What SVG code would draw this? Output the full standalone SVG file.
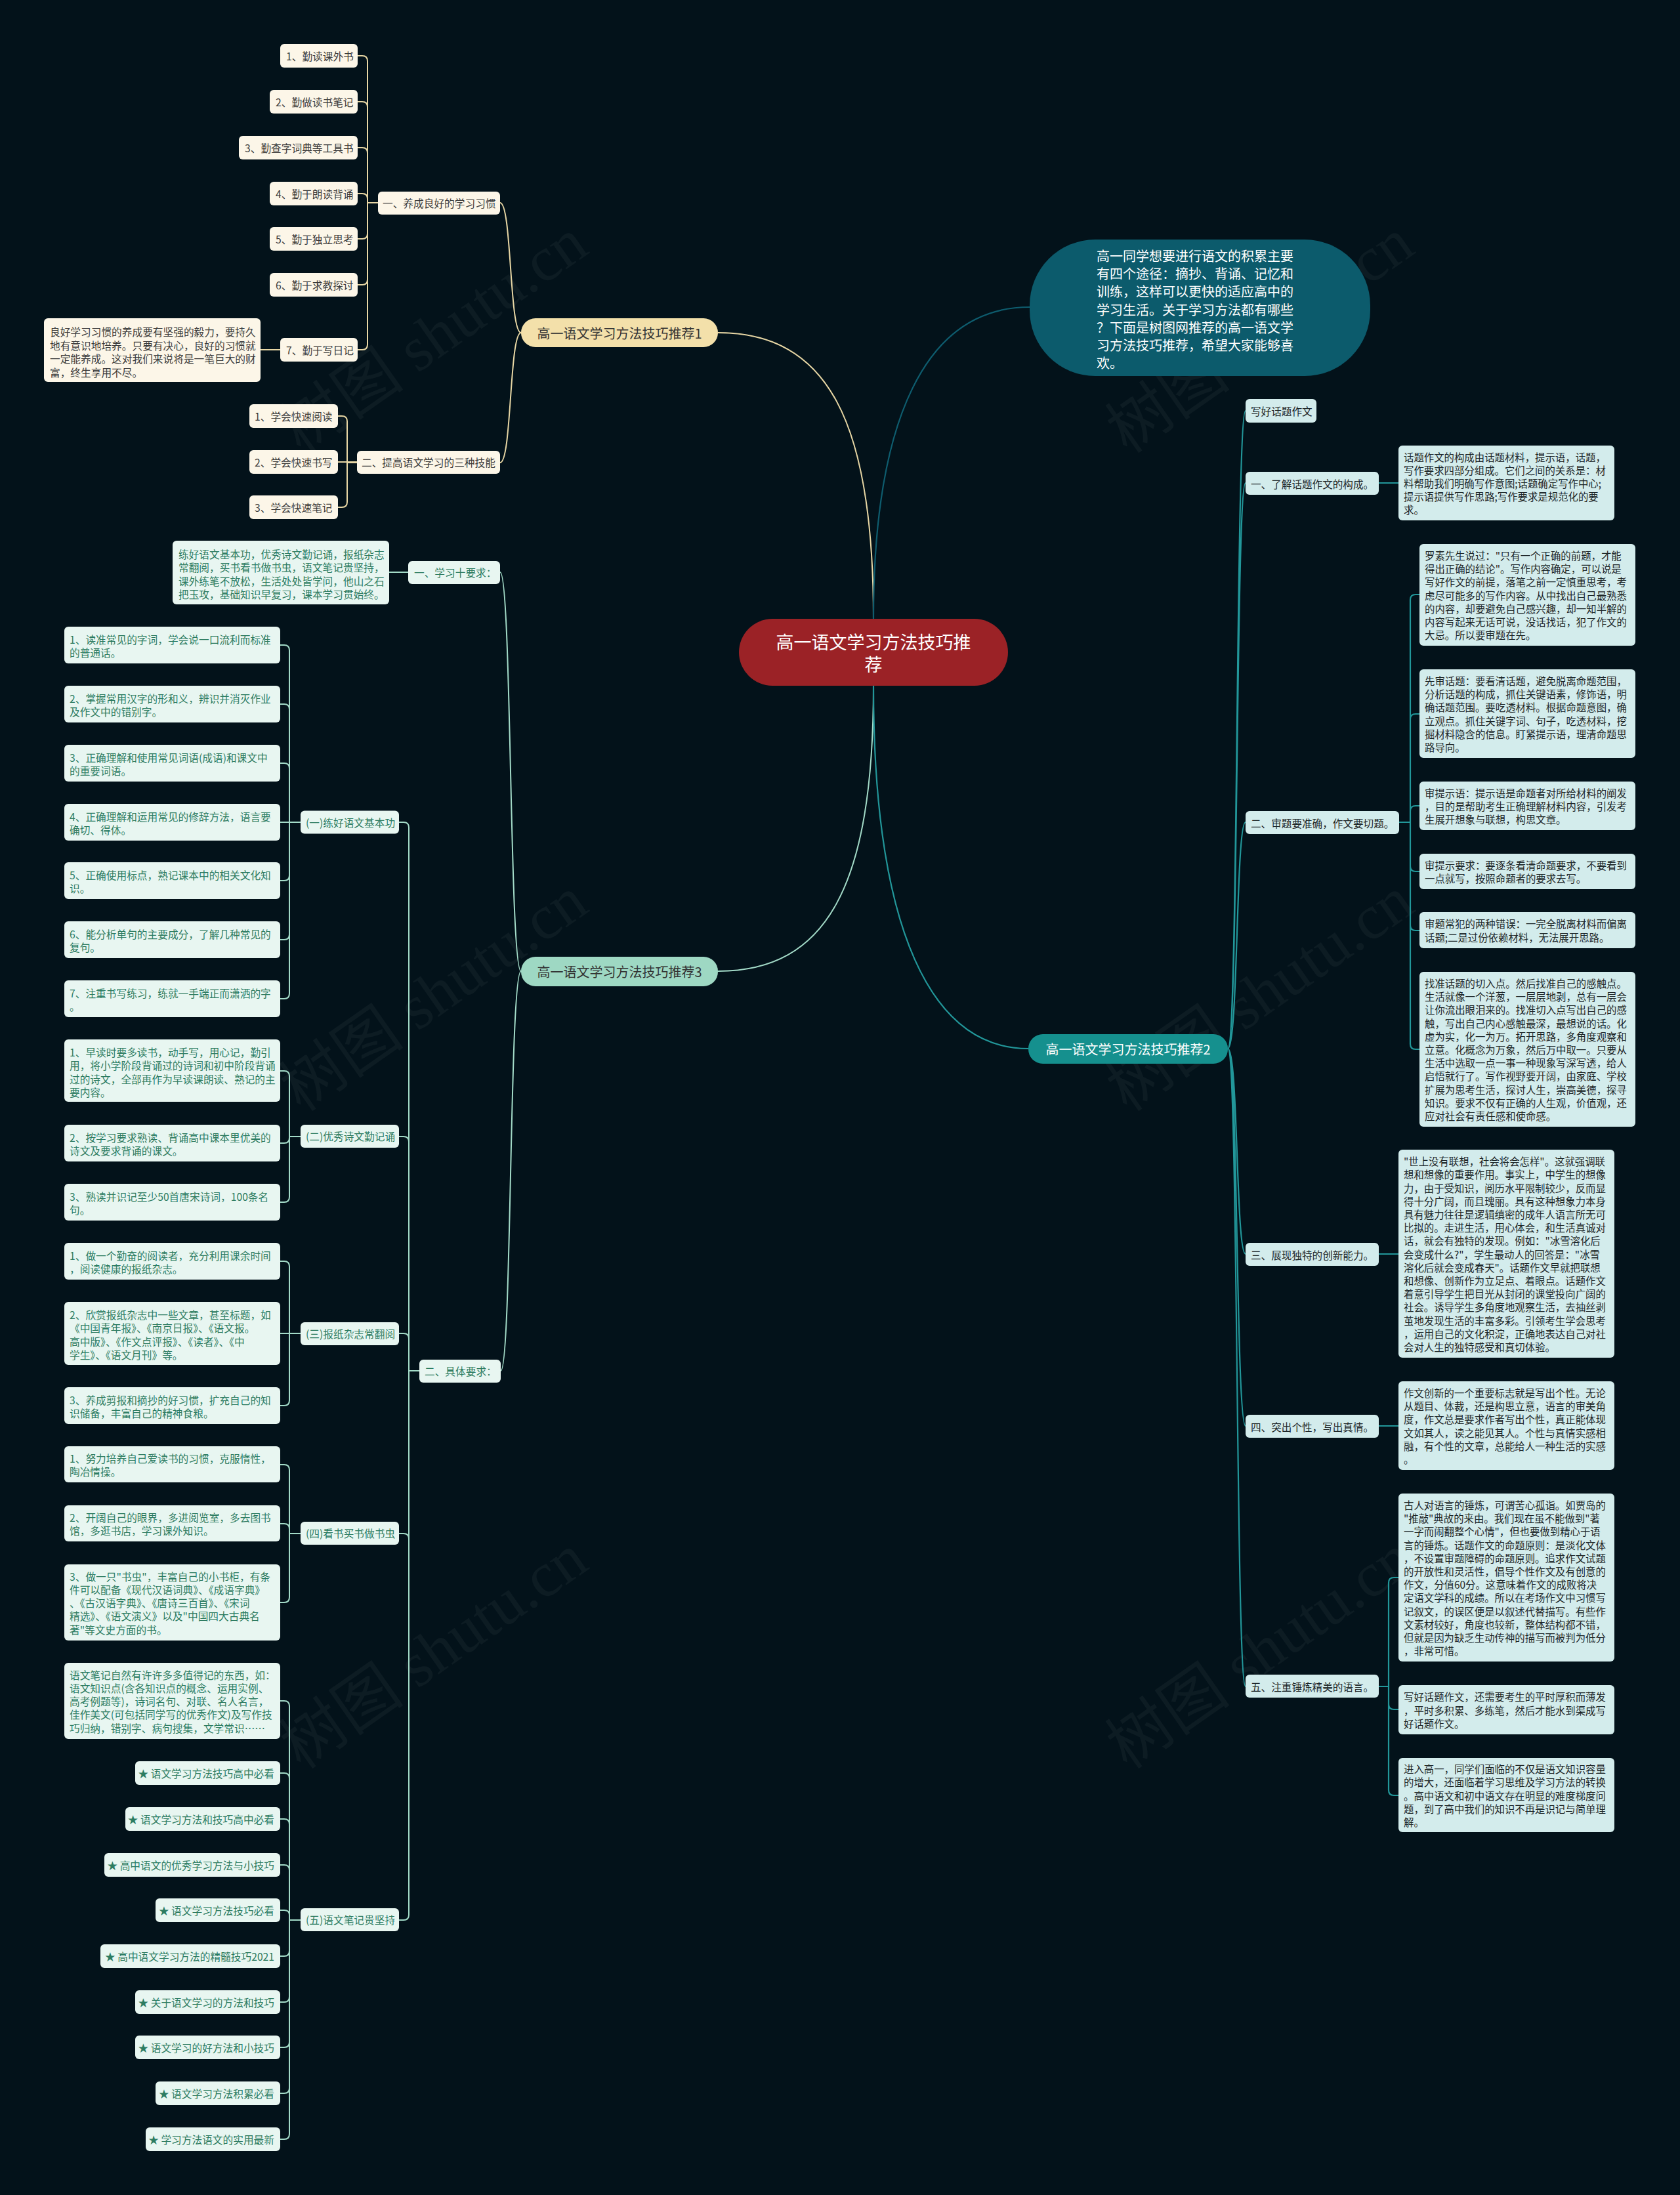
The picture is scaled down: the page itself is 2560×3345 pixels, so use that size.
<svg xmlns="http://www.w3.org/2000/svg" width="2560" height="3345" viewBox="0 0 2560 3345">
<defs>
<style>
text{font-family:"Noto Sans CJK SC","Liberation Sans",sans-serif;dominant-baseline:central}
.s{font-size:15.7px}
.r{font-size:15.4px}
.l{font-size:15.6px}
.wm{font-family:"Liberation Serif","Noto Sans CJK SC",serif;font-size:96px;fill:#ffffff;fill-opacity:0.045;text-anchor:middle}
.n1 rect{fill:#fcf6e8}.n1 text{fill:#3a3a3a}
.n3 rect{fill:#e8f6f1}.n3 text{fill:#2d7c61}
.n2 rect{fill:#d3ecec}.n2 text{fill:#1d2628}
.c1{stroke:#e8d7a5;fill:none;stroke-width:2}
.c3{stroke:#a3dbc8;fill:none;stroke-width:2}
.c2{stroke:#22979a;fill:none;stroke-width:2.2}
</style>
</defs>
<rect width="2560" height="3345" fill="#03121a"/>
<g id="watermark">
<text class="wm" x="661" y="512" transform="rotate(-35 661 512)">树图 shutu.cn</text>
<text class="wm" x="1920" y="512" transform="rotate(-35 1920 512)">树图 shutu.cn</text>
<text class="wm" x="661" y="1515" transform="rotate(-35 661 1515)">树图 shutu.cn</text>
<text class="wm" x="1920" y="1515" transform="rotate(-35 1920 1515)">树图 shutu.cn</text>
<text class="wm" x="661" y="2517" transform="rotate(-35 661 2517)">树图 shutu.cn</text>
<text class="wm" x="1920" y="2517" transform="rotate(-35 1920 2517)">树图 shutu.cn</text>
</g>
<g id="connectors">
<path d="M1331 943C1331 640 1260 507 1094 507" class="c1"/>
<path d="M1331 943C1331 640 1410 468 1569 468" stroke="#0e5d6f" stroke-width="2.2" fill="none"/>
<path d="M1331 1045C1331 1350 1260 1480 1094 1480" class="c3"/>
<path d="M1331 1045C1331 1420 1420 1598 1567 1598" class="c2"/>
<path class="c1" d="M794 507C776 507 780 309 762 309M794 507C776 507 780 705 762 705M576 309H560V93Q560 85 552 85H545M576 309H560V163Q560 155 552 155H545M576 309H560V233Q560 225 552 225H545M576 309H560V303Q560 295 552 295H545M576 309H560V356Q560 364 552 364H545M576 309H560V426Q560 434 552 434H545M576 309H560V525Q560 533 552 533H545M427 533H397M544 705H529V642Q529 634 521 634H515M544 704H515M544 705H529V765Q529 773 521 773H515"/>
<path class="c3" d="M794 1480C776 1480 780 872 762 872M794 1480C776 1480 780 2089 763 2089M622 872H593M639 2089H623V1261Q623 1253 615 1253H608M639 2089H623V1740Q623 1732 615 1732H608M639 2089H623V2040Q623 2032 615 2032H608M639 2089H623V2345Q623 2337 615 2337H608M639 2089H623V2918Q623 2926 615 2926H608"/>
<path class="c3" d="M458 1253H441V991Q441 983 433 983H427M458 1253H441V1081Q441 1073 433 1073H427M458 1253H441V1171Q441 1163 433 1163H427M458 1253H427M458 1253H441V1334Q441 1342 433 1342H427M458 1253H441V1424Q441 1432 433 1432H427M458 1253H441V1514Q441 1522 433 1522H427"/>
<path class="c3" d="M458 1732H441V1640Q441 1632 433 1632H427M458 1732H441V1734Q441 1742 433 1742H427M458 1732H441V1824Q441 1832 433 1832H427"/>
<path class="c3" d="M458 2032H441V1930Q441 1922 433 1922H427M458 2032H427M458 2032H441V2134Q441 2142 433 2142H427"/>
<path class="c3" d="M458 2337H441V2240Q441 2232 433 2232H427M458 2337H441V2330Q441 2322 433 2322H427M458 2337H441V2434Q441 2442 433 2442H427"/>
<path class="c3" d="M458 2926H441V2600Q441 2592 433 2592H427M458 2926H441V2710Q441 2702 433 2702H427M458 2926H441V2780Q441 2772 433 2772H427M458 2926H441V2850Q441 2842 433 2842H427M458 2926H441V2918Q441 2911 433 2911H427M458 2926H441V2973Q441 2981 433 2981H427M458 2926H441V3043Q441 3051 433 3051H427M458 2926H441V3112Q441 3120 433 3120H427M458 2926H441V3182Q441 3190 433 3190H427M458 2926H441V3252Q441 3260 433 3260H427"/>
<path class="c2" d="M1871 1598C1887 1598 1883 626 1898 626M1871 1598C1887 1598 1883 736 1898 736M1871 1598C1887 1598 1883 1253 1898 1253M1871 1598C1887 1598 1883 1911 1898 1911M1871 1598C1887 1598 1883 2173 1898 2173M1871 1598C1887 1598 1883 2570 1898 2570"/>
<path class="c2" d="M2101 736H2131M2101 1911H2131M2101 2173H2131M2132 1253H2149V914Q2149 906 2157 906H2163M2132 1253H2149V1096Q2149 1088 2157 1088H2163M2132 1253H2149V1236Q2149 1228 2157 1228H2163M2132 1253H2149V1320Q2149 1328 2157 1328H2163M2132 1253H2149V1410Q2149 1418 2157 1418H2163M2132 1253H2149V1591Q2149 1599 2157 1599H2163M2101 2570H2116V2412Q2116 2404 2124 2404H2131M2101 2570H2116V2597Q2116 2605 2124 2605H2131M2101 2570H2116V2728Q2116 2736 2124 2736H2131"/>
</g>

<g id="n-center"><rect x="1126" y="943" width="410" height="102" rx="51" fill="#9b2226"/>
<text x="1331" y="977" font-size="27" fill="#ffffff" text-anchor="middle">高一语文学习方法技巧推</text>
<text x="1331" y="1011" font-size="27" fill="#ffffff" text-anchor="middle">荐</text></g>

<g id="n-intro"><rect x="1569" y="365" width="519" height="208" rx="100" fill="#0c5b6c"/>
<text x="1671" y="389" font-size="20" fill="#ffffff"><tspan>高一同学想要进行语文的积累主要</tspan><tspan x="1671" dy="27.2">有四个途径：摘抄、背诵、记忆和</tspan><tspan x="1671" dy="27.2">训练，这样可以更快的适应高中的</tspan><tspan x="1671" dy="27.2">学习生活。关于学习方法都有哪些</tspan><tspan x="1671" dy="27.2">？下面是树图网推荐的高一语文学</tspan><tspan x="1671" dy="27.2">习方法技巧推荐，希望大家能够喜</tspan><tspan x="1671" dy="27.2">欢。</tspan></text></g>

<g id="n-b1"><rect x="794" y="485" width="300" height="44" rx="22" fill="#f3e0aa"/><text x="944" y="507" font-size="20" fill="#333333" text-anchor="middle">高一语文学习方法技巧推荐1</text></g>
<g id="n-b3"><rect x="794" y="1458" width="300" height="45" rx="22" fill="#9ed8c3"/><text x="944" y="1480.5" font-size="20" fill="#333333" text-anchor="middle">高一语文学习方法技巧推荐3</text></g>
<g id="n-b2"><rect x="1567" y="1576" width="304" height="45" rx="22" fill="#15908e"/><text x="1719" y="1598.5" font-size="20" fill="#ffffff" text-anchor="middle">高一语文学习方法技巧推荐2</text></g>

<g class="n1 s">
<g id="n1-a"><rect x="576" y="292" width="186" height="35" rx="6"/><text x="583" y="309.5">一、养成良好的学习习惯</text></g>
<g id="n1-a1"><rect x="427" y="67" width="118" height="36" rx="6"/><text x="436" y="85">1、勤读课外书</text></g>
<g id="n1-a2"><rect x="411" y="137" width="134" height="36" rx="6"/><text x="420" y="155">2、勤做读书笔记</text></g>
<g id="n1-a3"><rect x="364" y="207" width="181" height="36" rx="6"/><text x="373" y="225">3、勤查字词典等工具书</text></g>
<g id="n1-a4"><rect x="411" y="277" width="134" height="36" rx="6"/><text x="420" y="295">4、勤于朗读背诵</text></g>
<g id="n1-a5"><rect x="411" y="346" width="134" height="36" rx="6"/><text x="420" y="364">5、勤于独立思考</text></g>
<g id="n1-a6"><rect x="411" y="416" width="134" height="36" rx="6"/><text x="420" y="434">6、勤于求教探讨</text></g>
<g id="n1-a7"><rect x="427" y="515" width="118" height="36" rx="6"/><text x="436" y="533">7、勤于写日记</text></g>
<g id="n1-a7c"><rect x="67" y="485" width="330" height="97" rx="6"/><text x="76" y="505"><tspan>良好学习习惯的养成要有坚强的毅力，要持久</tspan><tspan x="76" dy="20.6">地有意识地培养。只要有决心，良好的习惯就</tspan><tspan x="76" dy="20.6">一定能养成。这对我们来说将是一笔巨大的财</tspan><tspan x="76" dy="20.6">富，终生享用不尽。</tspan></text></g>
<g id="n1-b"><rect x="544" y="687" width="218" height="35" rx="6"/><text x="551" y="704.5">二、提高语文学习的三种技能</text></g>
<g id="n1-b1"><rect x="380" y="616" width="135" height="36" rx="6"/><text x="388" y="634">1、学会快速阅读</text></g>
<g id="n1-b2"><rect x="380" y="686" width="135" height="36" rx="6"/><text x="388" y="704">2、学会快速书写</text></g>
<g id="n1-b3"><rect x="380" y="755" width="135" height="36" rx="6"/><text x="388" y="773">3、学会快速笔记</text></g>
</g>

<g class="n3 s">
<g id="n3-a"><rect x="622" y="855" width="140" height="35" rx="6"/><text x="631" y="872.5">一、学习十要求：</text></g>
<g id="n3-ac"><rect x="263" y="824" width="330" height="97" rx="6"/><text x="272" y="843.5"><tspan>练好语文基本功，优秀诗文勤记诵，报纸杂志</tspan><tspan x="272" dy="20.5">常翻阅，买书看书做书虫，语文笔记贵坚持，</tspan><tspan x="272" dy="20.5">课外练笔不放松，生活处处皆学问，他山之石</tspan><tspan x="272" dy="20.5">把玉攻，基础知识早复习，课本学习贯始终。</tspan></text></g>
<g id="n3-b"><rect x="639" y="2072" width="124" height="35" rx="6"/><text x="647" y="2089.5">二、具体要求：</text></g>

<g id="n3-b1"><rect x="458" y="1235.5" width="150" height="35" rx="6"/><text x="466" y="1253">(一)练好语文基本功</text></g>
<g id="n3-b1-1"><rect x="98" y="955" width="329" height="56" rx="6"/><text x="106" y="974"><tspan>1、读准常见的字词，学会说一口流利而标准</tspan><tspan x="106" dy="20.3">的普通话。</tspan></text></g>
<g id="n3-b1-2"><rect x="98" y="1045" width="329" height="56" rx="6"/><text x="106" y="1064"><tspan>2、掌握常用汉字的形和义，辨识并消灭作业</tspan><tspan x="106" dy="20.3">及作文中的错别字。</tspan></text></g>
<g id="n3-b1-3"><rect x="98" y="1135" width="329" height="56" rx="6"/><text x="106" y="1154"><tspan>3、正确理解和使用常见词语(成语)和课文中</tspan><tspan x="106" dy="20.3">的重要词语。</tspan></text></g>
<g id="n3-b1-4"><rect x="98" y="1225" width="329" height="56" rx="6"/><text x="106" y="1244"><tspan>4、正确理解和运用常见的修辞方法，语言要</tspan><tspan x="106" dy="20.3">确切、得体。</tspan></text></g>
<g id="n3-b1-5"><rect x="98" y="1314" width="329" height="56" rx="6"/><text x="106" y="1333"><tspan>5、正确使用标点，熟记课本中的相关文化知</tspan><tspan x="106" dy="20.3">识。</tspan></text></g>
<g id="n3-b1-6"><rect x="98" y="1404" width="329" height="56" rx="6"/><text x="106" y="1423"><tspan>6、能分析单句的主要成分，了解几种常见的</tspan><tspan x="106" dy="20.3">复句。</tspan></text></g>
<g id="n3-b1-7"><rect x="98" y="1494" width="329" height="56" rx="6"/><text x="106" y="1513"><tspan>7、注重书写练习，练就一手端正而潇洒的字</tspan><tspan x="106" dy="20.3">。</tspan></text></g>

<g id="n3-b2"><rect x="458" y="1714" width="150" height="35" rx="6"/><text x="466" y="1731.5">(二)优秀诗文勤记诵</text></g>
<g id="n3-b2-1"><rect x="98" y="1584" width="329" height="95" rx="6"/><text x="106" y="1603"><tspan>1、早读时要多读书，动手写，用心记，勤引</tspan><tspan x="106" dy="20.3">用，将小学阶段背诵过的诗词和初中阶段背诵</tspan><tspan x="106" dy="20.3">过的诗文，全部再作为早读课朗读、熟记的主</tspan><tspan x="106" dy="20.3">要内容。</tspan></text></g>
<g id="n3-b2-2"><rect x="98" y="1714" width="329" height="56" rx="6"/><text x="106" y="1733"><tspan>2、按学习要求熟读、背诵高中课本里优美的</tspan><tspan x="106" dy="20.3">诗文及要求背诵的课文。</tspan></text></g>
<g id="n3-b2-3"><rect x="98" y="1804" width="329" height="56" rx="6"/><text x="106" y="1823"><tspan>3、熟读并识记至少50首唐宋诗词，100条名</tspan><tspan x="106" dy="20.3">句。</tspan></text></g>

<g id="n3-b3"><rect x="458" y="2015" width="150" height="35" rx="6"/><text x="466" y="2032.5">(三)报纸杂志常翻阅</text></g>
<g id="n3-b3-1"><rect x="98" y="1894" width="329" height="56" rx="6"/><text x="106" y="1913"><tspan>1、做一个勤奋的阅读者，充分利用课余时间</tspan><tspan x="106" dy="20.3">，阅读健康的报纸杂志。</tspan></text></g>
<g id="n3-b3-2"><rect x="98" y="1984" width="329" height="96" rx="6"/><text x="106" y="2003"><tspan>2、欣赏报纸杂志中一些文章，甚至标题，如</tspan><tspan x="106" dy="20.3">《中国青年报》、《南京日报》、《语文报。</tspan><tspan x="106" dy="20.3">高中版》、《作文点评报》、《读者》、《中</tspan><tspan x="106" dy="20.3">学生》、《语文月刊》等。</tspan></text></g>
<g id="n3-b3-3"><rect x="98" y="2114" width="329" height="56" rx="6"/><text x="106" y="2133"><tspan>3、养成剪报和摘抄的好习惯，扩充自己的知</tspan><tspan x="106" dy="20.3">识储备，丰富自己的精神食粮。</tspan></text></g>

<g id="n3-b4"><rect x="458" y="2319" width="150" height="35" rx="6"/><text x="466" y="2336.5">(四)看书买书做书虫</text></g>
<g id="n3-b4-1"><rect x="98" y="2204" width="329" height="55" rx="6"/><text x="106" y="2222"><tspan>1、努力培养自己爱读书的习惯，克服惰性，</tspan><tspan x="106" dy="20.3">陶冶情操。</tspan></text></g>
<g id="n3-b4-2"><rect x="98" y="2294" width="329" height="55" rx="6"/><text x="106" y="2312"><tspan>2、开阔自己的眼界，多进阅览室，多去图书</tspan><tspan x="106" dy="20.3">馆，多逛书店，学习课外知识。</tspan></text></g>
<g id="n3-b4-3"><rect x="98" y="2384" width="329" height="116" rx="6"/><text x="106" y="2401.5"><tspan>3、做一只"书虫"，丰富自己的小书柜，有条</tspan><tspan x="106" dy="20.3">件可以配备《现代汉语词典》、《成语字典》</tspan><tspan x="106" dy="20.3">、《古汉语字典》、《唐诗三百首》、《宋词</tspan><tspan x="106" dy="20.3">精选》、《语文演义》以及"中国四大古典名</tspan><tspan x="106" dy="20.3">著"等文史方面的书。</tspan></text></g>

<g id="n3-b5"><rect x="458" y="2908" width="150" height="35" rx="6"/><text x="466" y="2925.5">(五)语文笔记贵坚持</text></g>
<g id="n3-b5-c"><rect x="98" y="2534" width="329" height="116" rx="6"/><text x="106" y="2551.5"><tspan>语文笔记自然有许许多多值得记的东西，如：</tspan><tspan x="106" dy="20.3">语文知识点(含各知识点的概念、运用实例、</tspan><tspan x="106" dy="20.3">高考例题等)，诗词名句、对联、名人名言，</tspan><tspan x="106" dy="20.3">佳作美文(可包括同学写的优秀作文)及写作技</tspan><tspan x="106" dy="20.3">巧归纳，错别字、病句搜集，文学常识……</tspan></text></g>
<g id="n3-s1"><rect x="206" y="2684" width="221" height="36" rx="6"/><text x="418" y="2702" text-anchor="end">★ 语文学习方法技巧高中必看</text></g>
<g id="n3-s2"><rect x="191" y="2754" width="236" height="36" rx="6"/><text x="418" y="2772" text-anchor="end">★ 语文学习方法和技巧高中必看</text></g>
<g id="n3-s3"><rect x="159" y="2824" width="268" height="36" rx="6"/><text x="418" y="2842" text-anchor="end">★ 高中语文的优秀学习方法与小技巧</text></g>
<g id="n3-s4"><rect x="237" y="2893" width="190" height="36" rx="6"/><text x="418" y="2911" text-anchor="end">★ 语文学习方法技巧必看</text></g>
<g id="n3-s5"><rect x="153" y="2963" width="274" height="36" rx="6"/><text x="418" y="2981" text-anchor="end">★ 高中语文学习方法的精髓技巧2021</text></g>
<g id="n3-s6"><rect x="206" y="3033" width="221" height="36" rx="6"/><text x="418" y="3051" text-anchor="end">★ 关于语文学习的方法和技巧</text></g>
<g id="n3-s7"><rect x="206" y="3102" width="221" height="36" rx="6"/><text x="418" y="3120" text-anchor="end">★ 语文学习的好方法和小技巧</text></g>
<g id="n3-s8"><rect x="237" y="3172" width="190" height="36" rx="6"/><text x="418" y="3190" text-anchor="end">★ 语文学习方法积累必看</text></g>
<g id="n3-s9"><rect x="222" y="3242" width="205" height="36" rx="6"/><text x="418" y="3260" text-anchor="end">★ 学习方法语文的实用最新</text></g>
</g>

<g class="n2">
<g id="n2-0" class="l"><rect x="1898" y="608" width="108" height="36" rx="6"/><text x="1906" y="626">写好话题作文</text></g>
<g id="n2-1" class="l"><rect x="1898" y="719" width="203" height="35" rx="6"/><text x="1906" y="736.5">一、了解话题作文的构成。</text></g>
<g id="n2-1c" class="r"><rect x="2131" y="679" width="329" height="114" rx="6"/><text x="2139" y="695.6"><tspan>话题作文的构成由话题材料，提示语，话题，</tspan><tspan x="2139" dy="20.2">写作要求四部分组成。它们之间的关系是：材</tspan><tspan x="2139" dy="20.2">料帮助我们明确写作意图;话题确定写作中心;</tspan><tspan x="2139" dy="20.2">提示语提供写作思路;写作要求是规范化的要</tspan><tspan x="2139" dy="20.2">求。</tspan></text></g>
<g id="n2-2" class="l"><rect x="1898" y="1236" width="234" height="35" rx="6"/><text x="1906" y="1253.5">二、审题要准确，作文要切题。</text></g>
<g id="n2-2a" class="r"><rect x="2163" y="829" width="329" height="155" rx="6"/><text x="2171" y="846"><tspan>罗素先生说过："只有一个正确的前题，才能</tspan><tspan x="2171" dy="20.2">得出正确的结论"。写作内容确定，可以说是</tspan><tspan x="2171" dy="20.2">写好作文的前提，落笔之前一定慎重思考，考</tspan><tspan x="2171" dy="20.2">虑尽可能多的写作内容。从中找出自己最熟悉</tspan><tspan x="2171" dy="20.2">的内容，却要避免自己感兴趣，却一知半解的</tspan><tspan x="2171" dy="20.2">内容写起来无话可说，没话找话，犯了作文的</tspan><tspan x="2171" dy="20.2">大忌。所以要审题在先。</tspan></text></g>
<g id="n2-2b" class="r"><rect x="2163" y="1020" width="329" height="135" rx="6"/><text x="2171" y="1037"><tspan>先审话题：要看清话题，避免脱离命题范围，</tspan><tspan x="2171" dy="20.2">分析话题的构成，抓住关键语素，修饰语，明</tspan><tspan x="2171" dy="20.2">确话题范围。要吃透材料。根据命题意图，确</tspan><tspan x="2171" dy="20.2">立观点。抓住关键字词、句子，吃透材料，挖</tspan><tspan x="2171" dy="20.2">掘材料隐含的信息。盯紧提示语，理清命题思</tspan><tspan x="2171" dy="20.2">路导向。</tspan></text></g>
<g id="n2-2c" class="r"><rect x="2163" y="1191" width="329" height="74" rx="6"/><text x="2171" y="1207.8"><tspan>审提示语：提示语是命题者对所给材料的阐发</tspan><tspan x="2171" dy="20.2">，目的是帮助考生正确理解材料内容，引发考</tspan><tspan x="2171" dy="20.2">生展开想象与联想，构思文章。</tspan></text></g>
<g id="n2-2d" class="r"><rect x="2163" y="1301" width="329" height="54" rx="6"/><text x="2171" y="1317.9"><tspan>审提示要求：要逐条看清命题要求，不要看到</tspan><tspan x="2171" dy="20.2">一点就写，按照命题者的要求去写。</tspan></text></g>
<g id="n2-2e" class="r"><rect x="2163" y="1390" width="329" height="55" rx="6"/><text x="2171" y="1407.4"><tspan>审题常犯的两种错误：一完全脱离材料而偏离</tspan><tspan x="2171" dy="20.2">话题;二是过份依赖材料，无法展开思路。</tspan></text></g>
<g id="n2-2f" class="r"><rect x="2163" y="1481" width="329" height="236" rx="6"/><text x="2171" y="1498"><tspan>找准话题的切入点。然后找准自己的感触点。</tspan><tspan x="2171" dy="20.2">生活就像一个洋葱，一层层地剥，总有一层会</tspan><tspan x="2171" dy="20.2">让你流出眼泪来的。找准切入点写出自己的感</tspan><tspan x="2171" dy="20.2">触，写出自己内心感触最深，最想说的话。化</tspan><tspan x="2171" dy="20.2">虚为实，化一为万。拓开思路，多角度观察和</tspan><tspan x="2171" dy="20.2">立意。化概念为万象，然后万中取一。只要从</tspan><tspan x="2171" dy="20.2">生活中选取一点一事一种现象写深写透，给人</tspan><tspan x="2171" dy="20.2">启悟就行了。写作视野要开阔，由家庭、学校</tspan><tspan x="2171" dy="20.2">扩展为思考生活，探讨人生，崇高美德，探寻</tspan><tspan x="2171" dy="20.2">知识。要求不仅有正确的人生观，价值观，还</tspan><tspan x="2171" dy="20.2">应对社会有责任感和使命感。</tspan></text></g>
<g id="n2-3" class="l"><rect x="1898" y="1894" width="203" height="35" rx="6"/><text x="1906" y="1911.5">三、展现独特的创新能力。</text></g>
<g id="n2-3c" class="r"><rect x="2131" y="1752" width="329" height="317" rx="6"/><text x="2139" y="1769.1"><tspan>"世上没有联想，社会将会怎样"。这就强调联</tspan><tspan x="2139" dy="20.2">想和想像的重要作用。事实上，中学生的想像</tspan><tspan x="2139" dy="20.2">力，由于受知识，阅历水平限制较少，反而显</tspan><tspan x="2139" dy="20.2">得十分广阔，而且瑰丽。具有这种想象力本身</tspan><tspan x="2139" dy="20.2">具有魅力往往是逻辑缜密的成年人语言所无可</tspan><tspan x="2139" dy="20.2">比拟的。走进生活，用心体会，和生活真诚对</tspan><tspan x="2139" dy="20.2">话，就会有独特的发现。例如："冰雪溶化后</tspan><tspan x="2139" dy="20.2">会变成什么?"，学生最动人的回答是："冰雪</tspan><tspan x="2139" dy="20.2">溶化后就会变成春天"。话题作文早就把联想</tspan><tspan x="2139" dy="20.2">和想像、创新作为立足点、着眼点。话题作文</tspan><tspan x="2139" dy="20.2">着意引导学生把目光从封闭的课堂投向广阔的</tspan><tspan x="2139" dy="20.2">社会。诱导学生多角度地观察生活，去抽丝剥</tspan><tspan x="2139" dy="20.2">茧地发现生活的丰富多彩。引领考生学会思考</tspan><tspan x="2139" dy="20.2">，运用自己的文化积淀，正确地表达自己对社</tspan><tspan x="2139" dy="20.2">会对人生的独特感受和真切体验。</tspan></text></g>
<g id="n2-4" class="l"><rect x="1898" y="2156" width="203" height="35" rx="6"/><text x="1906" y="2173.5">四、突出个性，写出真情。</text></g>
<g id="n2-4c" class="r"><rect x="2131" y="2105" width="329" height="135" rx="6"/><text x="2139" y="2122"><tspan>作文创新的一个重要标志就是写出个性。无论</tspan><tspan x="2139" dy="20.2">从题目、体裁，还是构思立意，语言的审美角</tspan><tspan x="2139" dy="20.2">度，作文总是要求作者写出个性，真正能体现</tspan><tspan x="2139" dy="20.2">文如其人，读之能见其人。个性与真情实感相</tspan><tspan x="2139" dy="20.2">融，有个性的文章，总能给人一种生活的实感</tspan><tspan x="2139" dy="20.2">。</tspan></text></g>
<g id="n2-5" class="l"><rect x="1898" y="2552" width="203" height="35" rx="6"/><text x="1906" y="2569.5">五、注重锤炼精美的语言。</text></g>
<g id="n2-5a" class="r"><rect x="2131" y="2276" width="329" height="256" rx="6"/><text x="2139" y="2292.9"><tspan>古人对语言的锤炼，可谓苦心孤诣。如贾岛的</tspan><tspan x="2139" dy="20.2">"推敲"典故的来由。我们现在虽不能做到"著</tspan><tspan x="2139" dy="20.2">一字而闹翻整个心情"，但也要做到精心于语</tspan><tspan x="2139" dy="20.2">言的锤炼。话题作文的命题原则：是淡化文体</tspan><tspan x="2139" dy="20.2">，不设置审题障碍的命题原则。追求作文试题</tspan><tspan x="2139" dy="20.2">的开放性和灵活性，倡导个性作文及有创意的</tspan><tspan x="2139" dy="20.2">作文，分值60分。这意味着作文的成败将决</tspan><tspan x="2139" dy="20.2">定语文学科的成绩。所以在考场作文中习惯写</tspan><tspan x="2139" dy="20.2">记叙文，的误区便是以叙述代替描写。有些作</tspan><tspan x="2139" dy="20.2">文素材较好，角度也较新，整体结构都不错，</tspan><tspan x="2139" dy="20.2">但就是因为缺乏生动传神的描写而被判为低分</tspan><tspan x="2139" dy="20.2">，非常可惜。</tspan></text></g>
<g id="n2-5b" class="r"><rect x="2131" y="2568" width="329" height="75" rx="6"/><text x="2139" y="2585.3"><tspan>写好话题作文，还需要考生的平时厚积而薄发</tspan><tspan x="2139" dy="20.2">，平时多积累、多练笔，然后才能水到渠成写</tspan><tspan x="2139" dy="20.2">好话题作文。</tspan></text></g>
<g id="n2-5c" class="r"><rect x="2131" y="2679" width="329" height="113" rx="6"/><text x="2139" y="2695.1"><tspan>进入高一，同学们面临的不仅是语文知识容量</tspan><tspan x="2139" dy="20.2">的增大，还面临着学习思维及学习方法的转换</tspan><tspan x="2139" dy="20.2">。高中语文和初中语文存在明显的难度梯度问</tspan><tspan x="2139" dy="20.2">题，到了高中我们的知识不再是识记与简单理</tspan><tspan x="2139" dy="20.2">解。</tspan></text></g>
</g>
</svg>
